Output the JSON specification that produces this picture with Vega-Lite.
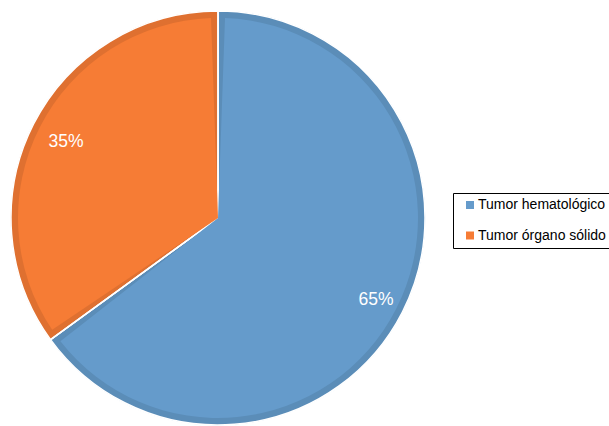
{
  "$schema": "https://vega.github.io/schema/vega-lite/v6.json",
  "width": 436,
  "height": 426,
  "autosize": "pad",
  "padding": {"left": 0, "top": 5, "right": 0, "bottom": 0},
  "background": "white",
  "view": {"stroke": null},
  "data": {
    "values": [
      {"category": "Tumor hematológico", "value": 65, "label": "65%"},
      {"category": "Tumor órgano sólido", "value": 35, "label": "35%"}
    ]
  },
  "encoding": {
    "theta": {"field": "value", "type": "quantitative", "stack": true},
    "order": {"field": "value", "type": "quantitative", "sort": "descending"},
    "color": {
      "field": "category",
      "type": "nominal",
      "scale": {"domain": ["Tumor hematológico", "Tumor órgano sólido"], "range": ["#659BCB", "#F67C35"]},
      "legend": {
        "title": null,
        "orient": "none",
        "legendX": 453,
        "legendY": 188,
        "strokeColor": "black",
        "padding": 5,
        "symbolOffset": 5,
        "symbolType": "square",
        "symbolSize": 64,
        "symbolStrokeWidth": 0,
        "labelFontSize": 14,
        "labelFont": "Liberation Sans",
        "labelColor": "black",
        "labelOffset": 1,
        "labelLimit": 300,
        "rowPadding": 16.5
      }
    }
  },
  "layer": [
    {
      "mark": {"type": "arc", "outerRadius": 208, "stroke": "white", "strokeWidth": 1.5}
    },
    {
      "mark": {"type": "arc", "outerRadius": 207, "fill": "black", "fillOpacity": 0.09, "stroke": "white", "strokeWidth": 1.5}
    },
    {
      "mark": {"type": "arc", "outerRadius": 200, "padAngle": 0.07}
    },
    {
      "mark": {"type": "text", "radius": 174, "dx": 3, "dy": 3, "fontSize": 17.5, "font": "Liberation Sans", "fill": "white"},
      "encoding": {
        "text": {"field": "label"},
        "color": {"value": "white"}
      }
    }
  ]
}
